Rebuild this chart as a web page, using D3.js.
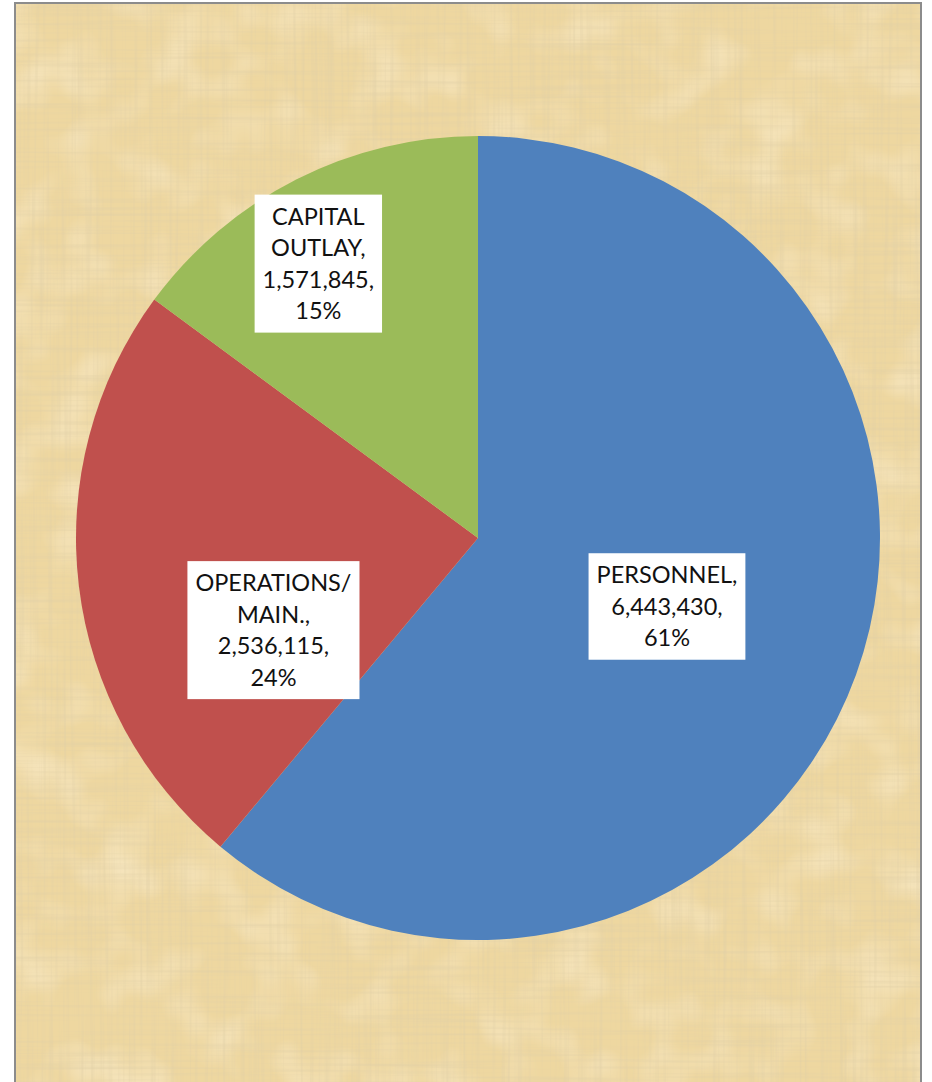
<!DOCTYPE html>
<html>
<head>
<meta charset="utf-8">
<script src="https://cdn.jsdelivr.net/npm/d3@7"></script>
<style>
  html, body { margin: 0; padding: 0; background: #ffffff; }
  svg { display: block; }
</style>
</head>
<body>
<svg id="chart"></svg>
<script>
// budget categories
const categories = ['PERSONNEL', 'OPERATIONS/ MAIN.', 'CAPITAL OUTLAY']
const amounts = [6443430, 2536115, 1571845]
const percents = ['61%', '24%', '15%']
// label text is wrapped the way the original wraps it
const labelLines = [
    ['PERSONNEL,', '6,443,430,', '61%'],
    ['OPERATIONS/', 'MAIN.,', '2,536,115,', '24%'],
    ['CAPITAL', 'OUTLAY,', '1,571,845,', '15%']
]
const colors = ['#4f81bd', '#c0504d', '#9bbb59']

// best-fit nudges from the arc centroid (like excel moves them)
const labelNudge = [[0, 0], [-5, 68], [-69, -95]]

const config = {
    width: 932,
    height: 1082,
    cx: 478,
    cy: 538,
    radius: 402,
    fontSize: 23.5,
    lineHeight: 31.5
}

const svg = d3.select('#chart')
    .attr('width', config.width)
    .attr('height', config.height)

// papyrus-ish background: base colour plus fibre layers
const defs = svg.append('defs')

function fibreFilter(id, freq, seed, rgb, a, b) {
    const f = defs.append('filter')
        .attr('id', id)
        .attr('x', 0).attr('y', 0)
        .attr('width', '100%').attr('height', '100%')
    f.append('feTurbulence')
        .attr('type', 'fractalNoise')
        .attr('baseFrequency', freq)
        .attr('numOctaves', 2)
        .attr('seed', seed)
    f.append('feColorMatrix')
        .attr('type', 'matrix')
        .attr('values', `0 0 0 0 ${rgb[0]}  0 0 0 0 ${rgb[1]}  0 0 0 0 ${rgb[2]}  ${a} 0 0 0 ${b}`)
}
fibreFilter('fibreV', '0.3 0.006', 3, [0.74, 0.62, 0.38], 1.1, -0.5)
fibreFilter('fibreH', '0.006 0.3', 7, [0.74, 0.62, 0.38], 1.1, -0.5)
fibreFilter('fibreL', '0.02 0.02', 11, [0.99, 0.91, 0.74], 1.0, -0.45)

const frame = { x: 15, y: 3, w: 906, h: 1090 }

const bg = svg.append('g')
;['none', 'url(#fibreL)', 'url(#fibreV)', 'url(#fibreH)'].forEach((flt, i) => {
    bg.append('rect')
        .attr('x', frame.x).attr('y', frame.y)
        .attr('width', frame.w).attr('height', frame.h)
        .attr('fill', i == 0 ? '#eed7a0' : null)
        .attr('filter', i == 0 ? null : flt)
})
bg.append('rect')
    .attr('x', frame.x).attr('y', frame.y)
    .attr('width', frame.w).attr('height', frame.h)
    .attr('fill', 'none')
    .attr('stroke', '#8c8c8c')
    .attr('stroke-width', 2)

// pie
const data = categories.map((c, i) => ({
    name: c,
    value: amounts[i],
    pct: percents[i],
    lines: labelLines[i],
    color: colors[i],
    nudge: labelNudge[i]
}))

const pie = d3.pie()
    .value(d => d.value)
    .sort(null)

const arc = d3.arc()
    .innerRadius(0)
    .outerRadius(config.radius)

const chart = svg.append('g')
    .attr('transform', `translate(${config.cx},${config.cy})`)

const arcs = pie(data)

chart.selectAll('.slice')
    .data(arcs)
    .join('path')
        .attr('class', 'slice')
        .attr('d', arc)
        .attr('fill', d => d.data.color)

// labels in white boxes
const labels = chart.selectAll('.label')
    .data(arcs)
    .join('g')
        .attr('class', 'label')
        .attr('transform', d => {
            let c = arc.centroid(d)
            return `translate(${c[0] + d.data.nudge[0]},${c[1] + d.data.nudge[1]})`
        })

labels.append('rect')
    .attr('fill', '#ffffff')

labels.append('text')
    .attr('text-anchor', 'middle')
    .attr('font-family', 'Lato, "Open Sans", sans-serif')
    .attr('font-size', config.fontSize)
    .attr('fill', '#111111')
    .each(function(d) {
        let n = d.data.lines.length
        let t = d3.select(this)
        d.data.lines.forEach((line, i) => {
            t.append('tspan')
                .attr('x', 0)
                .attr('y', (i - (n - 1) / 2) * config.lineHeight)
                .attr('dy', '0.36em')
                .text(line)
        })
    })

labels.each(function(d) {
    let g = d3.select(this)
    let w = d3.max(g.selectAll('tspan').nodes(), n => n.getComputedTextLength())
    let h = d.data.lines.length * config.lineHeight + 12
    g.select('rect')
        .attr('x', -w / 2 - 8)
        .attr('y', -h / 2)
        .attr('width', w + 16)
        .attr('height', h)
})
</script>
</body>
</html>
